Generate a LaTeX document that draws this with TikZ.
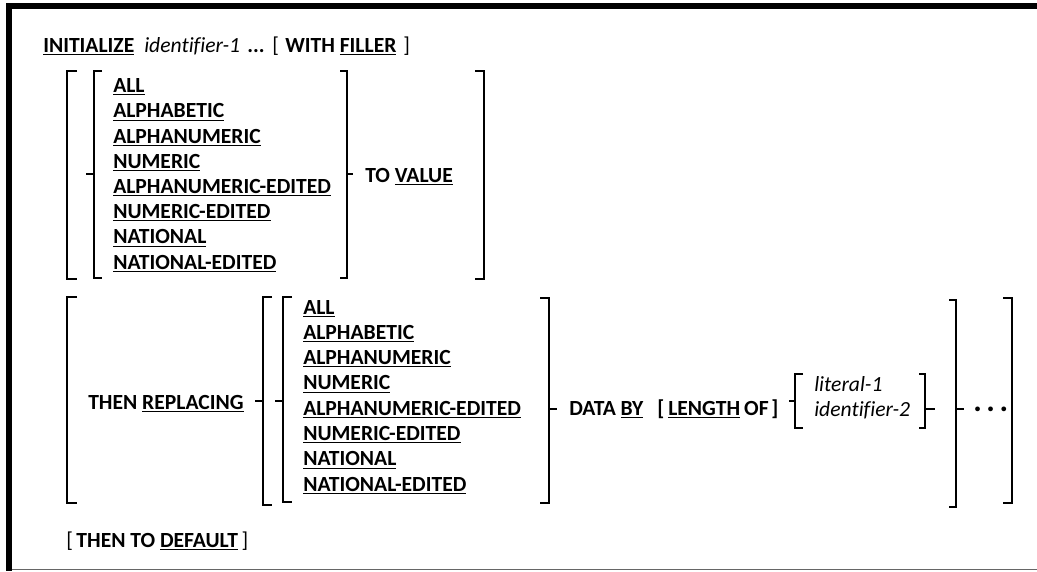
\documentclass[tikz,border=0pt]{standalone}
\usepackage{fontspec}
\setmainfont{Carlito}[Ligatures=NoCommon]
\begin{document}
\begin{tikzpicture}[x=0.75pt,y=-0.75pt,
	kw/.style={anchor=base west,inner sep=0pt,font=\fontsize{16.2}{19}\selectfont\bfseries},
	it/.style={anchor=base west,inner sep=0pt,font=\fontsize{16.2}{19}\selectfont\itshape},
	rm/.style={anchor=base west,inner sep=0pt,font=\fontsize{16.2}{19}\selectfont},
	br/.style={line width=1.5pt}]
	\useasboundingbox (0,0) rectangle (1037,571);
	% frame
	\draw[line width=4.5pt] (6,6)--(1037,6) (9,3)--(9,571);
	\draw[line width=0.8pt,black!60] (12,569.5)--(1037,569.5);
	% first line
	\node[kw] (init) at (43,52) {\underline{INITIALIZE}};
	\node[it] (id1) at (144,52) {identifier-1};
	\node[kw] (dots1) at (247,52) {...};
	\node[rm] (ob1) at (272,52) {[};
	\node[kw] (with) at (285,52) {WITH \underline{FILLER}};
	\node[rm] (cb1) at (403,52) {]};
	% categories
	\foreach \w [count=\i from 0] in {ALL,ALPHABETIC,ALPHANUMERIC,NUMERIC,ALPHANUMERIC-EDITED,NUMERIC-EDITED,NATIONAL,NATIONAL-EDITED}{
		\node[kw] (ca\i) at (113,{92.7+25.2*\i}) {\underline{\w}};
		\node[kw] (cb\i) at (303,{314+25.3*\i}) {\underline{\w}};
	}
	\node[kw] (tovalue) at (365,182) {TO \underline{VALUE}};
	\node[kw] (replacing) at (88,409) {THEN \underline{REPLACING}};
	\node[kw] (databy) at (569,415) {DATA \underline{BY}};
	\node[kw] (length) at (657,415) {[\kern3pt\underline{LENGTH}\kern3pt OF\kern2pt]};
	\node[it] (lit1) at (814,391) {literal-1};
	\node[it] (id2) at (814,416) {identifier-2};
	\node[kw,font=\fontsize{24}{26}\selectfont\bfseries] (dots2) at (973,411) {.\kern3.5pt.\kern3.5pt.};
	\node[rm] (default) at (66,547) {[\,\textbf{THEN TO \underline{DEFAULT}}\,]};
	% brackets: x/top/bottom/hook
	\foreach \x/\t/\b/\h in {67/71/279/10,94/71/278/8,347/71/278/-7,484/71/279/-9,
		67/297/503/10,263/297/505/9,283/297/502/9,549/298/503/-9,956/300/507/-7,1012/298/503/-9,
		795/374/428/8,925/374/428/-6}
		\draw[br] ({\x+\h},\t) -| (\x,\b) -- ({\x+\h},\b);
	% notches
	\foreach \x/\y/\n in {94/174/-8,347/174/6,263/401/-8,283/401/-8,549/409/8,956/409/8,795/401/-6,925/409/10}
		\draw[br] (\x,\y) -- ({\x+\n},\y);
\end{tikzpicture}
\end{document}
